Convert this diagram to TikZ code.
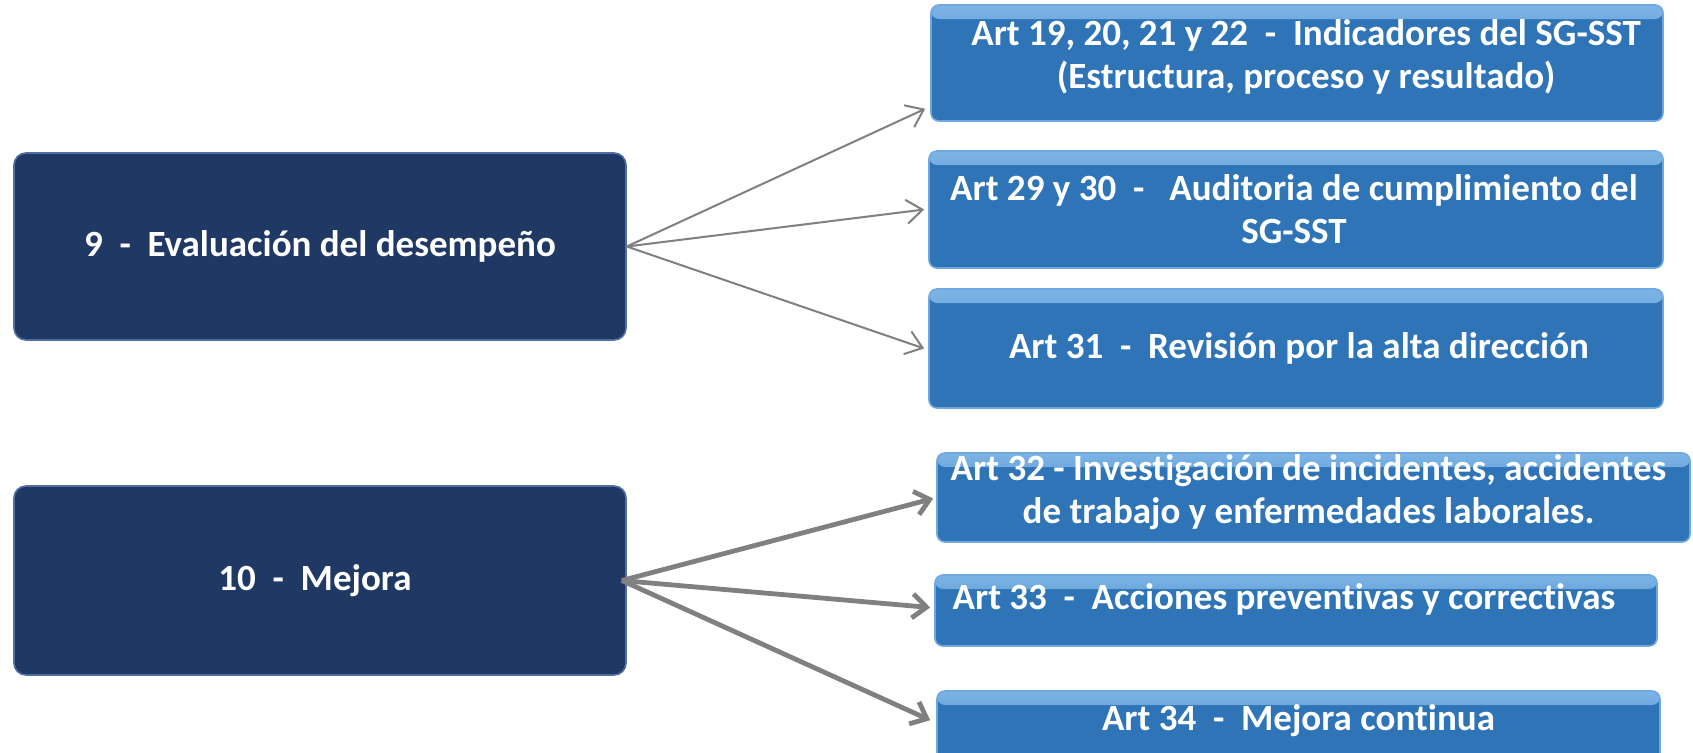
\documentclass[tikz,border=0pt]{standalone}
\usepackage{fontspec}
\setmainfont{Carlito}[Ligatures=NoCommon]
\usetikzlibrary{arrows.meta,calc}
\definecolor{navy}{RGB}{32,56,100}
\definecolor{navyedge}{RGB}{80,110,160}
\definecolor{artblue}{RGB}{46,116,182}
\definecolor{artedge}{RGB}{110,168,224}
\definecolor{arthi}{RGB}{125,180,230}
\definecolor{arrowgray}{RGB}{128,128,128}
\begin{document}
\begin{tikzpicture}[x=0.5pt,y=-0.5pt,
 mainbox/.style={draw=navyedge, line width=0.8pt, fill=navy, rounded corners=6pt, minimum width=306pt, inner sep=0pt},
 artbox/.style={draw=artedge, line width=0.8pt, fill=artblue, rounded corners=4pt, inner sep=0pt,
   path picture={\shade[top color=arthi, bottom color=artblue] (path picture bounding box.north west) rectangle ([yshift=-7pt]path picture bounding box.north east);}},
 txt/.style={text=white, font=\fontsize{18.5}{21.5}\selectfont\bfseries, align=center, inner sep=0pt},
 thinarrow/.style={draw=arrowgray, line width=1pt, -{Straight Barb[length=8pt,width=12pt]}},
 thickarrow/.style={draw=arrowgray, line width=2.4pt, -{Straight Barb[length=7pt,width=12pt]}}]
\useasboundingbox (0,0) rectangle (1693,752);
\clip (0,0) rectangle (1693,752);
\fill[white] (0,0) rectangle (1693,752);

% left boxes
\node[mainbox, minimum height=93.5pt] (a) at (320,246.5) {};
\node[mainbox, minimum height=94.5pt] (b) at (320,580.5) {};

% right boxes
\node[artbox, minimum width=366pt, minimum height=58pt] (r1) at (1297,63) {};
\node[artbox, minimum width=367pt, minimum height=58.5pt] (r2) at (1296,209.5) {};
\node[artbox, minimum width=367pt, minimum height=59.5pt] (r3) at (1296,348.5) {};
\node[artbox, minimum width=376.5pt, minimum height=44.5pt] (r4) at (1313.5,497.5) {};
\node[artbox, minimum width=361pt, minimum height=35.5pt] (r5) at (1296,610.5) {};
\node[artbox, minimum width=361.5pt, minimum height=39.5pt] (r6) at (1298.5,730.5) {};

% texts
\node[txt] (at) at (a.center) {9~~-~~Evaluación del desempeño};
\node[txt] (bt) at ($(b.center)+(-5,0)$) {10~~-~~Mejora};
\node[txt] (r1t) at ($(r1.center)+(9,-6)$) {Art 19, 20, 21 y 22~~-~~Indicadores del SG-SST\\(Estructura, proceso y resultado)};
\node[txt] (r2t) at ($(r2.center)+(-2,0)$) {Art 29 y 30~~-~~~Auditoria de cumplimiento del\\SG-SST};
\node[txt] (r3t) at ($(r3.center)+(3,0)$) {Art 31~~-~~Revisión por la alta dirección};
\node[txt] (r4t) at ($(r4.center)+(-5,-5.5)$) {Art 32 - Investigación de incidentes, accidentes\\de trabajo y enfermedades laborales.};
\node[txt] (r5t) at ($(r5.center)+(-12,-11.5)$) {Art 33~~-~~Acciones preventivas y correctivas};
\node[txt] (r6t) at ($(r6.center)+(0,-9.5)$) {Art 34~~-~~Mejora continua};

% connectors
\draw[thinarrow] (a.east) -- ($(r1.south west)+(-5,-13)$);
\draw[thinarrow] (a.east) -- ($(r2.west)+(-4,0)$);
\draw[thinarrow] (a.east) -- ($(r3.west)+(-4,0)$);
\draw[thickarrow] ($(b.east)+(-5,0)$) -- ($(r4.west)+(-3,1)$);
\draw[thickarrow] ($(b.east)+(-5,0)$) -- ($(r5.west)+(-4,-3)$);
\draw[thickarrow] ($(b.east)+(-5,0)$) -- ($(r6.north west)+(-6,30)$);
\end{tikzpicture}
\end{document}
